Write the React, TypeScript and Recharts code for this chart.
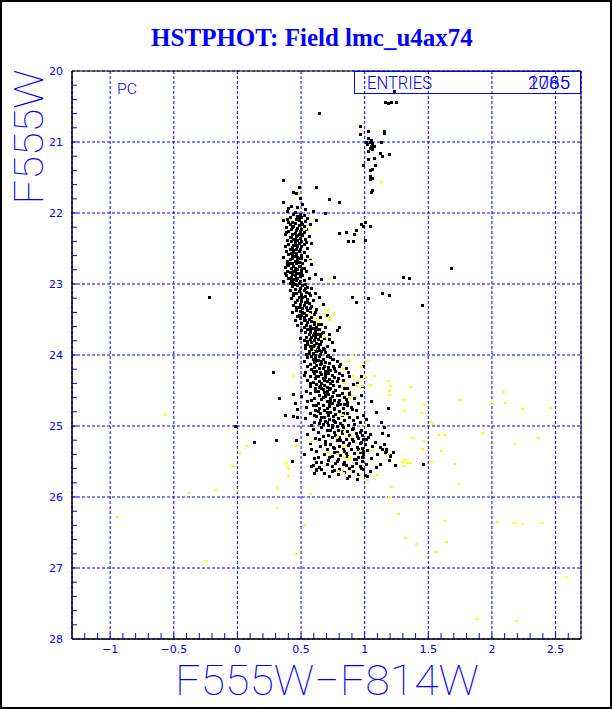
import React from "react";
import { ScatterChart, Scatter, XAxis, YAxis, CartesianGrid, ReferenceLine } from "recharts";

// axis ticks
const xTicks = [-1, -0.5, 0, 0.5, 1, 1.5, 2, 2.5];
const yTicks = [20, 21, 22, 23, 24, 25, 26, 27, 28];
const xMinorTicks = Array.from({ length: 39 }, (_, i) => Math.round((-1.2 + i * 0.1) * 10) / 10);
const yMinorTicks = Array.from({ length: 39 }, (_, i) => Math.round((20.2 + i * 0.2) * 10) / 10);

// black: upper main sequence / turnoff, [colour, magnitude]
const msUpper: number[][] = [
  [0.36,21.53],[0.48,21.64],[0.62,21.63],[0.44,21.70],[0.46,21.72],[0.49,21.79],[0.72,21.80],[0.80,21.85],[0.36,21.85],[0.42,21.90],[0.40,21.93],[0.39,21.97],[0.59,21.97],[0.69,22.00],[0.47,21.92],[0.51,21.87],[0.45,21.99],[0.53,21.95],
  [0.44,22.01],[0.49,22.02],[0.52,22.03],[0.47,22.04],[0.41,22.05],[0.50,22.06],[0.55,22.07],[0.46,22.08],[0.39,22.09],[0.36,22.10],[0.48,22.10],[0.53,22.11],[0.62,22.10],[0.43,22.12],[0.50,22.13],[0.45,22.14],[0.57,22.15],[0.41,22.16],[0.48,22.17],[0.52,22.18],[0.44,22.19],[0.38,22.20],[0.47,22.21],[0.50,22.22],[0.54,22.22],[0.42,22.23],[0.46,22.24],[0.49,22.25],[0.40,22.26],[0.52,22.27],[0.45,22.28],[0.48,22.29],[0.37,22.30],[0.43,22.30],[0.51,22.31],[0.56,22.32],[0.46,22.33],[0.41,22.34],[0.49,22.35],[0.44,22.36],[0.53,22.37],[0.39,22.38],[0.47,22.38],[0.50,22.39],[0.42,22.40],[0.45,22.41],[0.48,22.42],[0.58,22.42],[0.40,22.43],[0.52,22.44],[0.44,22.45],[0.47,22.46],[0.37,22.47],[0.50,22.47],[0.43,22.48],[0.55,22.49],[0.46,22.50],[0.41,22.50],[0.49,22.51],[0.45,22.36],[0.43,22.20],[0.51,22.16],[0.40,22.12],[0.47,22.31],[0.54,22.41],[0.38,22.27],[0.48,22.06],[0.46,22.45],[0.42,22.34],[0.50,22.29],
  [0.44,22.52],[0.38,22.53],[0.48,22.54],[0.52,22.55],[0.42,22.56],[0.46,22.57],[0.40,22.58],[0.50,22.59],[0.55,22.60],[0.44,22.61],[0.36,22.62],[0.47,22.62],[0.43,22.63],[0.49,22.64],[0.41,22.65],[0.53,22.66],[0.45,22.67],[0.39,22.68],[0.48,22.69],[0.51,22.70],[0.43,22.70],[0.46,22.71],[0.58,22.72],[0.40,22.73],[0.44,22.74],[0.49,22.75],[0.37,22.76],[0.52,22.77],[0.45,22.77],[0.42,22.78],[0.47,22.79],[0.50,22.80],[0.39,22.81],[0.44,22.82],[0.54,22.82],[0.41,22.83],[0.48,22.84],[0.46,22.85],[0.43,22.86],[0.51,22.87],[0.38,22.88],[0.45,22.88],[0.49,22.89],[0.42,22.90],[0.56,22.91],[0.47,22.91],[0.40,22.92],[0.44,22.93],[0.52,22.94],[0.46,22.95],[0.36,22.96],[0.49,22.96],[0.43,22.97],[0.41,22.98],[0.48,22.99],[0.53,23.00],[0.45,23.00],[0.66,22.93],[0.61,22.86],[0.50,22.63],[0.43,22.59],[0.47,22.66],[0.41,22.71],[0.45,22.80],[0.50,22.84],[0.39,22.72],[0.46,22.92],[0.44,22.55],[0.48,22.74],[0.42,22.95],[0.57,22.64],[0.37,22.85],[0.46,22.60],[0.51,22.78],[0.44,22.98],
];

// black: main sequence 23 - 24
const msMiddle: number[][] = [
  [0.47,23.01],[0.51,23.02],[0.43,23.03],[0.55,23.04],[0.49,23.05],[0.58,23.06],[0.45,23.07],[0.52,23.08],[0.41,23.09],[0.48,23.10],[0.54,23.11],[0.61,23.12],[0.46,23.13],[0.50,23.14],[0.57,23.15],[0.44,23.16],[0.53,23.17],[0.48,23.18],[0.64,23.18],[0.51,23.19],[0.42,23.20],[0.55,23.21],[0.47,23.22],[0.59,23.23],[0.50,23.24],[0.53,23.25],[0.45,23.26],[0.56,23.27],[0.49,23.28],[0.67,23.28],[0.52,23.29],[0.44,23.30],[0.58,23.31],[0.48,23.32],[0.54,23.33],[0.51,23.34],[0.62,23.35],[0.46,23.36],[0.55,23.37],[0.49,23.38],[0.57,23.39],[0.43,23.40],[0.52,23.41],[0.60,23.42],[0.50,23.43],[0.54,23.44],[0.47,23.45],[0.58,23.46],[0.52,23.47],[0.65,23.47],[0.49,23.48],[0.56,23.49],[0.53,23.50],[0.45,23.50],[0.50,23.21],[0.56,23.13],[0.46,23.33],[0.61,23.39],[0.53,23.06],[0.48,23.44],[0.70,23.43],[0.55,23.26],[0.44,23.12],[0.57,23.34],[0.51,23.40],
  [0.52,23.51],[0.58,23.52],[0.55,23.53],[0.63,23.54],[0.50,23.55],[0.60,23.56],[0.66,23.57],[0.54,23.58],[0.57,23.59],[0.62,23.60],[0.52,23.61],[0.69,23.61],[0.59,23.62],[0.55,23.63],[0.64,23.64],[0.50,23.65],[0.61,23.66],[0.57,23.67],[0.67,23.67],[0.53,23.68],[0.60,23.69],[0.63,23.70],[0.56,23.71],[0.72,23.71],[0.59,23.72],[0.65,23.73],[0.54,23.74],[0.61,23.75],[0.68,23.76],[0.57,23.77],[0.63,23.78],[0.52,23.79],[0.60,23.79],[0.66,23.80],[0.58,23.81],[0.74,23.82],[0.62,23.83],[0.55,23.84],[0.65,23.85],[0.60,23.86],[0.70,23.87],[0.57,23.88],[0.63,23.89],[0.53,23.90],[0.67,23.90],[0.61,23.91],[0.58,23.92],[0.64,23.93],[0.76,23.93],[0.56,23.94],[0.62,23.95],[0.69,23.96],[0.59,23.97],[0.65,23.98],[0.54,23.99],[0.61,24.00],[0.71,24.00],[0.49,23.76],[0.47,23.58],[0.62,23.63],[0.58,23.74],[0.64,23.84],[0.56,23.97],[0.60,23.54],[0.66,23.69],[0.53,23.86],[0.68,23.92],[0.63,23.56],[0.59,23.88],[0.57,23.64],[0.72,23.78],[0.61,23.71],[0.55,23.80],[0.66,23.95],[0.78,23.65],
];

// black: lower main sequence 24 - 25.75
const msLower: number[][] = [
  [0.58,24.01],[0.64,24.02],[0.70,24.02],[0.55,24.03],[0.61,24.04],[0.67,24.05],[0.74,24.05],[0.59,24.06],[0.63,24.07],[0.78,24.08],[0.66,24.08],[0.52,24.09],[0.60,24.10],[0.69,24.10],[0.72,24.11],[0.57,24.12],[0.65,24.13],[0.81,24.13],[0.62,24.14],[0.68,24.15],[0.75,24.15],[0.55,24.16],[0.60,24.17],[0.71,24.17],[0.64,24.18],[0.85,24.19],[0.67,24.19],[0.58,24.20],[0.73,24.21],[0.62,24.22],[0.77,24.22],[0.69,24.23],[0.53,24.24],[0.65,24.24],[0.80,24.25],[0.60,24.26],[0.71,24.26],[0.66,24.27],[0.74,24.28],[0.57,24.29],[0.63,24.29],[0.88,24.30],[0.69,24.31],[0.76,24.31],[0.61,24.32],[0.67,24.33],[0.72,24.34],[0.55,24.35],[0.83,24.35],[0.64,24.36],[0.70,24.37],[0.78,24.37],[0.59,24.38],[0.66,24.39],[0.73,24.40],[0.62,24.41],[0.91,24.41],[0.68,24.42],[0.75,24.42],[0.57,24.43],[0.80,24.44],[0.64,24.45],[0.70,24.45],[0.61,24.46],[0.86,24.47],[0.73,24.47],[0.67,24.48],[0.77,24.49],[0.54,24.50],[0.63,24.50],[0.70,24.50],[0.94,24.38],[0.82,24.28],[0.66,24.11],[0.73,24.03],[0.59,24.23],[0.76,24.18],[0.68,24.35],[0.84,24.46],[0.61,24.08],[0.71,24.21],[0.79,24.33],[0.65,24.43],[0.72,24.48],[0.57,24.39],[0.87,24.24],[0.62,24.30],[0.75,24.06],[0.69,24.27],[0.80,24.16],[0.66,24.46],[0.52,24.28],[0.98,24.44],[0.74,24.36],
  [0.61,24.51],[0.68,24.52],[0.75,24.52],[0.82,24.53],[0.57,24.54],[0.71,24.55],[0.88,24.55],[0.64,24.56],[0.78,24.57],[0.50,24.58],[0.69,24.58],[0.84,24.59],[0.73,24.60],[0.60,24.61],[0.92,24.61],[0.66,24.62],[0.80,24.63],[0.76,24.64],[0.55,24.65],[0.70,24.65],[0.86,24.66],[0.63,24.67],[0.74,24.68],[0.95,24.68],[0.81,24.69],[0.67,24.70],[0.59,24.71],[0.78,24.71],[0.72,24.72],[0.89,24.73],[0.64,24.74],[0.83,24.74],[0.70,24.75],[0.47,24.76],[0.76,24.76],[0.61,24.77],[0.93,24.78],[0.68,24.78],[0.80,24.79],[0.73,24.80],[0.57,24.81],[0.86,24.81],[0.65,24.82],[0.77,24.83],[0.71,24.84],[0.99,24.84],[0.82,24.85],[0.62,24.86],[0.75,24.86],[0.88,24.87],[0.68,24.88],[0.53,24.89],[0.79,24.89],[0.72,24.90],[0.91,24.91],[0.65,24.92],[0.84,24.92],[0.76,24.93],[0.60,24.94],[0.70,24.95],[0.96,24.95],[0.81,24.96],[0.67,24.97],[0.74,24.98],[0.87,24.98],[0.58,24.99],[0.78,25.00],[0.69,24.53],[0.85,24.62],[0.63,24.79],[0.74,24.58],[0.90,24.76],[0.66,24.88],[0.80,24.56],[0.72,24.67],[0.58,24.63],[0.83,24.82],[0.77,24.94],[0.62,24.70],[0.94,24.88],[0.71,24.99],[0.86,24.71],[0.67,24.59],[0.79,24.66],[0.54,24.73],[0.75,24.91],[0.97,24.57],[0.64,24.96],[0.82,24.98],[0.70,24.80],[0.88,24.52],[0.60,24.85],[0.76,24.74],[1.01,24.90],[0.45,24.68],[0.69,24.93],[0.84,24.69],[0.73,24.64],[0.92,24.97],
  [0.66,25.01],[0.74,25.02],[0.83,25.02],[0.91,25.03],[0.59,25.04],[0.79,25.05],[0.97,25.05],[0.70,25.06],[0.86,25.07],[1.00,25.08],[0.63,25.08],[0.76,25.09],[0.93,25.10],[0.82,25.10],[0.55,25.11],[0.71,25.12],[0.98,25.12],[0.88,25.13],[0.67,25.14],[0.80,25.15],[1.03,25.15],[0.74,25.16],[0.95,25.17],[0.61,25.17],[0.85,25.18],[0.99,25.19],[0.78,25.20],[0.69,25.21],[0.91,25.21],[1.08,25.22],[0.83,25.23],[0.57,25.24],[0.96,25.24],[0.73,25.25],[1.00,25.26],[0.87,25.27],[0.65,25.28],[0.80,25.28],[0.94,25.29],[1.12,25.30],[0.76,25.31],[0.98,25.31],[0.70,25.32],[0.89,25.33],[1.02,25.34],[0.62,25.35],[0.84,25.35],[0.96,25.36],[0.78,25.37],[1.17,25.37],[0.92,25.38],[0.68,25.39],[0.99,25.40],[0.81,25.41],[1.20,25.41],[0.74,25.42],[0.95,25.43],[0.87,25.44],[0.60,25.45],[1.05,25.45],[0.79,25.46],[0.93,25.47],[0.71,25.48],[0.98,25.49],[0.84,25.50],[1.19,25.48],[0.66,25.50],[0.90,25.04],[0.77,25.13],[0.97,25.22],[1.06,25.28],[0.85,25.38],[0.72,25.44],[0.94,25.14],[0.64,25.19],[0.99,25.35],[0.82,25.07],[1.10,25.40],[0.88,25.24],[0.75,25.29],[1.01,25.18],[0.92,25.46],[0.58,25.33],[0.81,25.20],[0.96,25.09],[1.14,25.33],[0.69,25.26],[0.86,25.42],[1.04,25.11],[0.78,25.49],[0.52,25.39],[0.95,25.33],[0.90,25.18],[1.22,25.36],[0.73,25.06],[0.63,25.43],[0.98,25.44],[0.83,25.31],[1.15,25.25],[0.76,25.36],
  [0.62,25.51],[0.77,25.52],[0.93,25.52],[0.70,25.53],[1.01,25.54],[0.85,25.55],[0.58,25.56],[0.96,25.56],[0.74,25.57],[1.09,25.58],[0.88,25.59],[0.66,25.60],[0.80,25.60],[0.99,25.61],[0.62,25.62],[0.91,25.63],[0.74,25.64],[1.04,25.64],[0.84,25.65],[0.68,25.66],[0.95,25.67],[0.79,25.68],[1.00,25.69],[0.72,25.70],[0.88,25.71],[0.64,25.58],[0.83,25.54],[0.97,25.59],[1.12,25.53],[0.76,25.62],[0.90,25.56],[1.02,25.71],[0.60,25.66],[0.86,25.73],[0.94,25.74],
];

// black: giant branch and clump
const giants: number[][] = [
  [1.23,20.28],[1.16,20.43],[1.18,20.45],[1.21,20.44],[1.25,20.43],[0.64,20.59],[0.96,20.77],[0.96,20.89],[1.03,20.85],[1.15,20.84],[1.15,20.87],[1.03,20.95],[1.05,20.97],[1.04,21.00],[1.06,21.02],[1.02,21.03],[1.05,21.05],[1.07,21.06],[1.04,21.08],[1.06,21.10],[1.03,21.12],[1.13,21.00],[1.01,21.00],[1.12,21.15],[1.14,21.20],[1.19,21.17],[1.03,21.24],[1.07,21.23],[0.99,21.32],[1.08,21.32],[1.06,21.38],[1.06,21.50],[1.04,21.52],[1.06,21.68],[1.04,21.48],[1.04,21.40],[1.05,21.70],
];

// black: scattered field stars
const fieldBlack: number[][] = [
  [0.80,21.85],[1.00,22.13],[0.99,22.18],[1.04,22.19],[0.93,22.24],[0.92,22.29],[0.85,22.27],[0.80,22.28],[0.87,22.40],[0.91,22.39],[1.00,22.38],[0.97,22.15],[1.30,22.90],[1.35,22.91],[1.19,23.15],[0.93,23.25],[1.03,23.20],[1.45,23.30],[0.80,23.60],[1.68,22.77],[-0.22,23.19],[1.14,23.12],[0.90,23.19],[0.76,22.90],
  [-0.02,25.00],[0.13,25.23],[0.30,25.20],[0.43,25.49],[0.59,25.55],[0.33,24.60],[0.44,24.55],[0.37,24.85],[0.44,24.86],[0.47,24.88],[0.46,25.20],[0.62,25.60],[0.28,24.24],[1.18,24.74],[1.13,24.95],[1.15,25.02],[1.18,25.12],[1.14,25.10],[1.17,25.32],[1.16,25.36],[1.20,25.42],[1.46,25.54],[1.24,25.55],[0.97,24.30],[0.99,24.16],[1.05,24.65],[1.09,24.80],[1.03,24.98],
];

// yellow points
const yellowPts: number[][] = [
  [1.19,24.50],[1.19,24.57],[1.36,24.45],[1.47,24.71],[1.44,24.81],[1.31,24.79],[1.74,24.64],[2.09,24.52],[2.00,24.66],[2.10,24.67],[2.24,24.76],[2.46,24.74],[1.51,24.94],[1.53,24.97],[1.37,25.17],[1.47,25.21],[1.58,25.13],[1.62,25.13],[1.92,25.10],[2.18,25.25],[2.36,25.17],[1.45,25.33],[1.60,25.35],[1.52,25.51],[1.70,25.53],[1.29,25.51],[1.31,25.56],[1.36,25.52],[1.74,25.81],[1.21,25.86],[1.19,26.00],[1.26,26.24],[1.62,26.34],[2.04,26.35],[2.17,26.37],[2.24,26.38],[2.39,26.37],[1.32,26.58],[1.40,26.66],[1.64,26.63],[1.55,26.77],[2.58,27.12],[2.19,27.74],[1.88,27.72],
  [-0.95,26.28],[-0.57,24.85],[-0.39,25.95],[-0.18,25.90],[-0.25,26.90],[-0.04,25.57],[0.00,25.91],[0.07,25.28],[0.01,25.38],[0.39,25.57],[0.40,25.70],[0.31,25.87],[0.30,26.16],[0.52,26.40],[0.46,26.80],[0.57,25.96],[0.47,25.28],[0.57,25.23],[0.71,25.38],[0.79,25.64],[0.84,25.43],[0.87,25.46],[0.96,25.68],[1.02,25.76],
  [0.84,24.40],[0.87,24.50],[0.93,24.43],[0.82,24.85],[0.88,24.60],[1.00,24.98],[1.04,24.42],
  [1.13,21.57],[0.48,21.73],[0.53,22.22],[0.57,22.63],[0.72,22.93],[0.71,23.36],[0.76,23.42],[0.56,23.42],[0.72,23.47],[0.61,23.48],[0.68,23.42],[0.63,23.54],[0.72,23.50],[0.64,23.67],[0.68,23.74],[0.60,23.91],[0.90,24.00],[1.02,24.08],[0.87,24.08],[0.97,24.17],[0.83,24.20],[0.91,24.29],[1.00,24.31],[1.07,24.30],[0.94,24.37],[0.44,24.30],[1.18,24.36],[1.20,24.43],[0.98,24.44],[0.92,24.58],[1.31,24.63],
  [0.84,25.09],[0.57,25.23],[0.46,25.28],[0.78,25.16],[0.89,25.16],[0.78,25.40],[0.83,25.30],[0.96,25.35],[0.88,25.44],[1.06,25.35],[0.97,25.68],[1.10,25.69],[0.83,25.66],[1.18,25.40],[1.31,25.48],[1.33,25.52],[0.38,25.52],[0.40,25.60],
];

const toXY = (pts: number[][]) => pts.map(([x, y]) => ({ x, y }));
const blackData = toXY([...msUpper, ...msMiddle, ...msLower, ...giants, ...fieldBlack]);
const yellowData = toXY(yellowPts);

const X_MIN = -1.3, X_MAX = 2.7, Y_MIN = 20, Y_MAX = 28;
// tick lengths in data units (about 6 px on x, 5 px on y)
const X_TICK_LEN = 0.084;
const Y_TICK_LEN = 0.04;

const BLUE = "#0000ff";
const tickFont = { fill: BLUE, fontSize: 11, fontFamily: "DejaVu Sans" };
const thinFont = "Roboto, 'Liberation Sans', sans-serif";

const fmtX = (v: number) => (v < 0 ? "\u2212" + Math.abs(v) : String(v));

const BlackDot = (p: any) => (
  <rect x={Math.round(p.cx) - 1} y={Math.round(p.cy) - 1} width={3} height={3} fill="#000" shapeRendering="crispEdges" />
);
const YellowDot = (p: any) => (
  <rect x={Math.round(p.cx) - 1} y={Math.round(p.cy) - 1} width={3} height={2} fill="#ffff00" shapeRendering="crispEdges" />
);

export default function App() {
  return (
    <div style={{ position: "relative", width: 612, height: 709, background: "#fff" }}>
      <style>{"body{margin:0}"}</style>
      <ScatterChart width={612} height={709} margin={{ top: 71, right: 31, bottom: 40, left: 22 }}>
        <CartesianGrid stroke={BLUE} strokeDasharray="3 2" />
        <XAxis type="number" dataKey="x" domain={[X_MIN, X_MAX]} allowDataOverflow ticks={xTicks} interval={0}
          height={30} tickLine={false} axisLine={{ stroke: "#000" }} tickSize={0} tickMargin={6} tick={tickFont} tickFormatter={fmtX} />
        <YAxis type="number" dataKey="y" domain={[Y_MIN, Y_MAX]} reversed allowDataOverflow ticks={yTicks} interval={0}
          width={50} tickLine={false} axisLine={{ stroke: "#000" }} tickSize={0} tickMargin={9} tick={tickFont} />
        {xMinorTicks.map((v) => (
          <ReferenceLine key={"xt" + v} segment={[{ x: v, y: Y_MAX }, { x: v, y: Y_MAX - X_TICK_LEN }]} stroke={BLUE} strokeWidth={1} />
        ))}
        {yMinorTicks.map((v) => (
          <ReferenceLine key={"yt" + v} segment={[{ x: X_MIN, y: v }, { x: X_MIN + Y_TICK_LEN, y: v }]} stroke={BLUE} strokeWidth={1} />
        ))}
        <ReferenceLine y={Y_MIN} stroke="#000" strokeWidth={1} />
        <ReferenceLine x={X_MAX} stroke="#000" strokeWidth={1} />
        <ReferenceLine y={Y_MAX} stroke="#000" strokeWidth={1} />
        <ReferenceLine x={X_MIN} stroke="#000" strokeWidth={1} />
        <Scatter data={blackData} shape={BlackDot} isAnimationActive={false} />
        <Scatter data={yellowData} shape={YellowDot} isAnimationActive={false} />
      </ScatterChart>
      <svg width={612} height={709} style={{ position: "absolute", left: 0, top: 0, pointerEvents: "none" }}>
        <text x={312} y={46} textAnchor="middle" fill={BLUE} fontFamily="'Liberation Serif', serif" fontWeight="bold" fontSize={25}>
          HSTPHOT: Field lmc_u4ax74
        </text>
        <text x={117} y={94} fill={BLUE} fontFamily={thinFont} fontWeight={300} fontSize={15} textLength={20} lengthAdjust="spacingAndGlyphs">PC</text>
        <rect x={354.5} y={71.5} width={226} height={22} fill="none" stroke={BLUE} strokeWidth={1} />
        <text x={367} y={89} fill={BLUE} fontFamily={thinFont} fontWeight={300} fontSize={19} textLength={65} lengthAdjust="spacingAndGlyphs">ENTRIES</text>
        <text x={528} y={89} fill={BLUE} fontFamily={thinFont} fontWeight={300} fontSize={19} textLength={42} lengthAdjust="spacingAndGlyphs">2085</text>
        <text x={528} y={89} fill={BLUE} fontFamily={thinFont} fontWeight={300} fontSize={19} textLength={42} lengthAdjust="spacingAndGlyphs">1765</text>
        <text transform="translate(43,137) rotate(-90)" textAnchor="middle" fill={BLUE} fontFamily={thinFont} fontWeight={100} fontSize={40} textLength={135} lengthAdjust="spacingAndGlyphs">F555W</text>
        <text x={327} y={695} textAnchor="middle" fill={BLUE} fontFamily={thinFont} fontWeight={100} fontSize={42} textLength={304} lengthAdjust="spacingAndGlyphs">F555W{"\u2212"}F814W</text>
      </svg>
      <div style={{ position: "absolute", left: 0, top: 0, width: 612, height: 709, border: "2px solid #000", boxSizing: "border-box", pointerEvents: "none" }} />
    </div>
  );
}
